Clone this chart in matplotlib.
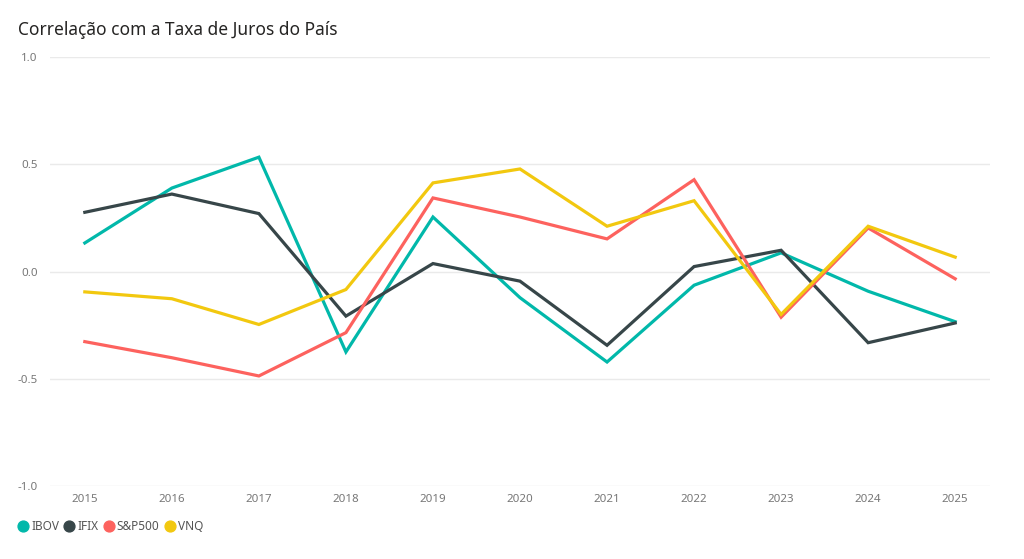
import matplotlib
matplotlib.use("Agg")
import matplotlib.pyplot as plt
from matplotlib.lines import Line2D

plt.rcParams['font.family'] = ['Noto Sans', 'DejaVu Sans']

years = [2015, 2016, 2017, 2018, 2019, 2020, 2021, 2022, 2023, 2024, 2025]
ibov = [0.133, 0.389, 0.533, -0.375, 0.254, -0.122, -0.422, -0.064, 0.087, -0.092, -0.234]
ifix = [0.276, 0.361, 0.270, -0.208, 0.037, -0.045, -0.344, 0.023, 0.099, -0.332, -0.240]
sp500 = [-0.327, -0.402, -0.487, -0.285, 0.343, 0.254, 0.152, 0.428, -0.213, 0.203, -0.034]
vnq = [-0.095, -0.127, -0.247, -0.084, 0.413, 0.478, 0.211, 0.330, -0.200, 0.211, 0.067]

series = [("IBOV", ibov, "#01B8AA"), ("IFIX", ifix, "#374649"),
          ("S&P500", sp500, "#FD625E"), ("VNQ", vnq, "#F2C80F")]

fig = plt.figure(figsize=(10.24, 5.59), dpi=100)
ax = fig.add_axes([50 / 1024, 1 - 486 / 559, 940 / 1024, 429 / 559])

for name, vals, color in series:
    ax.plot(years, vals, color=color, linewidth=2.3, solid_joinstyle='miter', label=name)

ax.set_xlim(2014.6, 2025.4)
ax.set_ylim(-1.0, 1.0)
ax.set_yticks([-1.0, -0.5, 0.0, 0.5, 1.0])
ax.set_yticklabels(["-1.0", "-0.5", "0.0", "0.5", "1.0"])
ax.set_xticks(years)
ax.set_xticklabels([str(y) for y in years])
ax.grid(axis='y', color='#EAEAEA', linewidth=1)
ax.set_axisbelow(True)
for s in ax.spines.values():
    s.set_visible(False)
ax.tick_params(axis='both', length=0, labelsize=8.3, labelcolor='#777777')
ax.tick_params(axis='y', pad=9)
ax.tick_params(axis='x', pad=6)

fig.text(18 / 1024, 1 - 30 / 559, "Correlação com a Taxa de Juros do País",
         fontsize=12.5, color='#252423', va='center', ha='left')

handles = [Line2D([0], [0], marker='o', linestyle='none', markersize=7.8,
                  markerfacecolor=c, markeredgecolor=c) for _, _, c in series]
fig.legend(handles, [n for n, _, _ in series], loc='center left',
           bbox_to_anchor=(10 / 1024, 1 - 527 / 559), ncol=4, frameon=False,
           fontsize=8.5, handletextpad=0.3, columnspacing=0.45,
           labelcolor='#555555', handlelength=0.8, borderpad=0.2)

fig.savefig("out.png", dpi=100)
